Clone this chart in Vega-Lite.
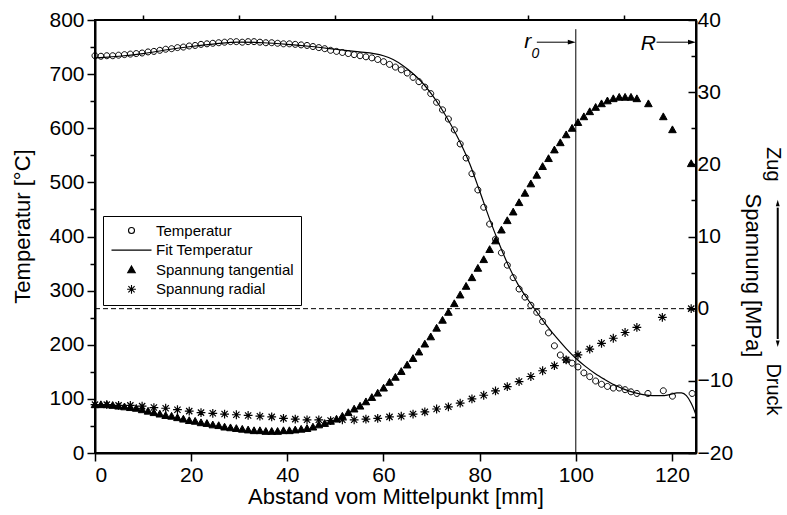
{
  "$schema": "https://vega.github.io/schema/vega-lite/v6.json",
  "width": 601,
  "height": 433,
  "autosize": {"type": "none"},
  "padding": {"left": 95, "top": 20, "right": 91, "bottom": 62},
  "background": "white",
  "config": {
    "font": "Liberation Sans",
    "view": {"stroke": "black", "strokeWidth": 2},
    "axis": {
      "grid": false,
      "domainColor": "black",
      "domainWidth": 2,
      "tickColor": "black",
      "tickWidth": 1.5,
      "labelColor": "black",
      "titleColor": "black",
      "labelFont": "Liberation Sans",
      "titleFont": "Liberation Sans",
      "labelFontSize": 21,
      "titleFontSize": 22,
      "titleFontWeight": "normal"
    },
    "legend": {
      "orient": "none",
      "legendX": 8,
      "legendY": 196,
      "strokeColor": "black",
      "strokeWidth": 1,
      "fillColor": "white",
      "padding": 7,
      "symbolOffset": 14,
      "labelOffset": 17,
      "labelFont": "Liberation Sans",
      "labelFontSize": 15,
      "labelColor": "black",
      "symbolSize": 64,
      "symbolStrokeWidth": 1.1,
      "rowPadding": 3.6
    }
  },
  "datasets": {
    "temp": [
      {"x":0,"v":734,"s":"Temperatur"},{"x":1.23,"v":733,"s":"Temperatur"},{"x":2.45,"v":734,"s":"Temperatur"},{"x":3.68,"v":734,"s":"Temperatur"},{"x":4.9,"v":735,"s":"Temperatur"},{"x":6.13,"v":736,"s":"Temperatur"},{"x":7.35,"v":737,"s":"Temperatur"},{"x":8.58,"v":738,"s":"Temperatur"},{"x":9.8,"v":739,"s":"Temperatur"},{"x":11.03,"v":741,"s":"Temperatur"},
      {"x":12.25,"v":742,"s":"Temperatur"},{"x":13.48,"v":744,"s":"Temperatur"},{"x":14.7,"v":746,"s":"Temperatur"},{"x":15.93,"v":747,"s":"Temperatur"},{"x":17.15,"v":749,"s":"Temperatur"},{"x":18.38,"v":750,"s":"Temperatur"},{"x":19.6,"v":752,"s":"Temperatur"},{"x":20.83,"v":753,"s":"Temperatur"},{"x":22.05,"v":755,"s":"Temperatur"},{"x":23.28,"v":756,"s":"Temperatur"},
      {"x":24.5,"v":757,"s":"Temperatur"},{"x":25.73,"v":758,"s":"Temperatur"},{"x":26.95,"v":759,"s":"Temperatur"},{"x":28.18,"v":760,"s":"Temperatur"},{"x":29.4,"v":760,"s":"Temperatur"},{"x":30.63,"v":759,"s":"Temperatur"},{"x":31.85,"v":760,"s":"Temperatur"},{"x":33.08,"v":760,"s":"Temperatur"},{"x":34.3,"v":759,"s":"Temperatur"},{"x":35.53,"v":758,"s":"Temperatur"},
      {"x":36.75,"v":758,"s":"Temperatur"},{"x":37.98,"v":757,"s":"Temperatur"},{"x":39.2,"v":756,"s":"Temperatur"},{"x":40.43,"v":756,"s":"Temperatur"},{"x":41.65,"v":755,"s":"Temperatur"},{"x":42.88,"v":754,"s":"Temperatur"},{"x":44.1,"v":753,"s":"Temperatur"},{"x":45.33,"v":751,"s":"Temperatur"},{"x":46.55,"v":749,"s":"Temperatur"},{"x":47.78,"v":747,"s":"Temperatur"},
      {"x":49,"v":744,"s":"Temperatur"},{"x":50.23,"v":742,"s":"Temperatur"},{"x":51.45,"v":740,"s":"Temperatur"},{"x":52.68,"v":738,"s":"Temperatur"},{"x":53.9,"v":736,"s":"Temperatur"},{"x":55.13,"v":734,"s":"Temperatur"},{"x":56.35,"v":732,"s":"Temperatur"},{"x":57.58,"v":730,"s":"Temperatur"},{"x":58.8,"v":727,"s":"Temperatur"},{"x":60.03,"v":723,"s":"Temperatur"},
      {"x":61.25,"v":718,"s":"Temperatur"},{"x":62.48,"v":713,"s":"Temperatur"},{"x":63.7,"v":708,"s":"Temperatur"},{"x":64.93,"v":702,"s":"Temperatur"},{"x":66.15,"v":694,"s":"Temperatur"},{"x":67.38,"v":686,"s":"Temperatur"},{"x":68.6,"v":676,"s":"Temperatur"},{"x":69.83,"v":664,"s":"Temperatur"},{"x":71.05,"v":648,"s":"Temperatur"},{"x":72.28,"v":634,"s":"Temperatur"},
      {"x":73.5,"v":617,"s":"Temperatur"},{"x":74.73,"v":597,"s":"Temperatur"},{"x":75.95,"v":571,"s":"Temperatur"},{"x":77.18,"v":545,"s":"Temperatur"},{"x":78.4,"v":516,"s":"Temperatur"},{"x":79.63,"v":486,"s":"Temperatur"},{"x":80.85,"v":454,"s":"Temperatur"},{"x":82.08,"v":423,"s":"Temperatur"},{"x":83.3,"v":395,"s":"Temperatur"},{"x":84.53,"v":370,"s":"Temperatur"},
      {"x":85.75,"v":347,"s":"Temperatur"},{"x":86.98,"v":324,"s":"Temperatur"},{"x":88.2,"v":303,"s":"Temperatur"},{"x":89.43,"v":288,"s":"Temperatur"},{"x":90.65,"v":273,"s":"Temperatur"},{"x":91.88,"v":260,"s":"Temperatur"},{"x":93.1,"v":243,"s":"Temperatur"},{"x":94.33,"v":222,"s":"Temperatur"},{"x":95.55,"v":198,"s":"Temperatur"},{"x":96.78,"v":181,"s":"Temperatur"},
      {"x":98,"v":172,"s":"Temperatur"},{"x":99.23,"v":166,"s":"Temperatur"},{"x":100.45,"v":159,"s":"Temperatur"},{"x":101.68,"v":148,"s":"Temperatur"},{"x":102.9,"v":141,"s":"Temperatur"},{"x":104.13,"v":133,"s":"Temperatur"},{"x":105.35,"v":127,"s":"Temperatur"},{"x":106.58,"v":123,"s":"Temperatur"},{"x":107.8,"v":120,"s":"Temperatur"},{"x":109.03,"v":120,"s":"Temperatur"},
      {"x":110.25,"v":117,"s":"Temperatur"},{"x":111.48,"v":113,"s":"Temperatur"},{"x":112.7,"v":110,"s":"Temperatur"},
      {"x":115,"v":110,"s":"Temperatur"},{"x":118.2,"v":115,"s":"Temperatur"},{"x":120.1,"v":105,"s":"Temperatur"},{"x":124.2,"v":110,"s":"Temperatur"}
    ],
    "fit": [
      {"x":0,"v":730},{"x":2,"v":731},{"x":5,"v":733},{"x":10,"v":738},{"x":15,"v":745},{"x":20,"v":751},{"x":25,"v":756},{"x":30,"v":759},{"x":35,"v":758},{"x":40,"v":755},
      {"x":45,"v":751},{"x":50,"v":746},{"x":55,"v":741},{"x":58,"v":738},{"x":60,"v":734},{"x":62,"v":727},{"x":64,"v":716},{"x":66,"v":702},{"x":68,"v":685},{"x":70,"v":663},
      {"x":72,"v":637},{"x":74,"v":607},{"x":76,"v":573},{"x":78,"v":533},{"x":80,"v":484},{"x":82,"v":434},{"x":84,"v":388},{"x":86,"v":346},{"x":88,"v":311},{"x":90,"v":284},
      {"x":92,"v":259},{"x":94,"v":235},{"x":96,"v":213},{"x":98,"v":193},{"x":100,"v":175},{"x":102,"v":160},{"x":104,"v":147},{"x":106,"v":136},{"x":108,"v":126},{"x":110,"v":118},
      {"x":112,"v":112},{"x":114,"v":108},{"x":116,"v":106},{"x":118,"v":106},{"x":119,"v":107},{"x":120,"v":109},{"x":121,"v":111},{"x":122,"v":111},{"x":123,"v":106},{"x":124,"v":92},
      {"x":124.5,"v":82},{"x":125,"v":70}
    ],
    "tang": [
      {"x":0,"v":-13.3,"s":"Spannung tangential"},{"x":1.23,"v":-13.3,"s":"Spannung tangential"},{"x":2.45,"v":-13.3,"s":"Spannung tangential"},{"x":3.68,"v":-13.4,"s":"Spannung tangential"},{"x":4.9,"v":-13.5,"s":"Spannung tangential"},{"x":6.13,"v":-13.6,"s":"Spannung tangential"},{"x":7.35,"v":-13.7,"s":"Spannung tangential"},{"x":8.58,"v":-13.8,"s":"Spannung tangential"},{"x":9.8,"v":-14.0,"s":"Spannung tangential"},{"x":11.03,"v":-14.2,"s":"Spannung tangential"},
      {"x":12.25,"v":-14.4,"s":"Spannung tangential"},{"x":13.48,"v":-14.6,"s":"Spannung tangential"},{"x":14.7,"v":-14.8,"s":"Spannung tangential"},{"x":15.93,"v":-14.9,"s":"Spannung tangential"},{"x":17.15,"v":-15.1,"s":"Spannung tangential"},{"x":18.38,"v":-15.3,"s":"Spannung tangential"},{"x":19.6,"v":-15.5,"s":"Spannung tangential"},{"x":20.83,"v":-15.6,"s":"Spannung tangential"},{"x":22.05,"v":-15.8,"s":"Spannung tangential"},{"x":23.28,"v":-15.9,"s":"Spannung tangential"},
      {"x":24.5,"v":-16.1,"s":"Spannung tangential"},{"x":25.73,"v":-16.2,"s":"Spannung tangential"},{"x":26.95,"v":-16.4,"s":"Spannung tangential"},{"x":28.18,"v":-16.5,"s":"Spannung tangential"},{"x":29.4,"v":-16.6,"s":"Spannung tangential"},{"x":30.63,"v":-16.7,"s":"Spannung tangential"},{"x":31.85,"v":-16.8,"s":"Spannung tangential"},{"x":33.08,"v":-16.9,"s":"Spannung tangential"},{"x":34.3,"v":-16.9,"s":"Spannung tangential"},{"x":35.53,"v":-17.0,"s":"Spannung tangential"},
      {"x":36.75,"v":-17.0,"s":"Spannung tangential"},{"x":37.98,"v":-17.0,"s":"Spannung tangential"},{"x":39.2,"v":-16.9,"s":"Spannung tangential"},{"x":40.43,"v":-16.9,"s":"Spannung tangential"},{"x":41.65,"v":-16.8,"s":"Spannung tangential"},{"x":42.88,"v":-16.7,"s":"Spannung tangential"},{"x":44.1,"v":-16.6,"s":"Spannung tangential"},{"x":45.33,"v":-16.4,"s":"Spannung tangential"},{"x":46.55,"v":-16.1,"s":"Spannung tangential"},{"x":47.78,"v":-15.9,"s":"Spannung tangential"},
      {"x":49,"v":-15.6,"s":"Spannung tangential"},{"x":50.23,"v":-15.3,"s":"Spannung tangential"},{"x":51.45,"v":-14.9,"s":"Spannung tangential"},{"x":52.68,"v":-14.4,"s":"Spannung tangential"},{"x":53.9,"v":-13.9,"s":"Spannung tangential"},{"x":55.13,"v":-13.5,"s":"Spannung tangential"},{"x":56.35,"v":-12.9,"s":"Spannung tangential"},{"x":57.58,"v":-12.3,"s":"Spannung tangential"},{"x":58.8,"v":-11.7,"s":"Spannung tangential"},{"x":60.03,"v":-11.0,"s":"Spannung tangential"},
      {"x":61.25,"v":-10.2,"s":"Spannung tangential"},{"x":62.48,"v":-9.5,"s":"Spannung tangential"},{"x":63.7,"v":-8.7,"s":"Spannung tangential"},{"x":64.93,"v":-7.8,"s":"Spannung tangential"},{"x":66.15,"v":-6.9,"s":"Spannung tangential"},{"x":67.38,"v":-6.0,"s":"Spannung tangential"},{"x":68.6,"v":-4.9,"s":"Spannung tangential"},{"x":69.83,"v":-3.9,"s":"Spannung tangential"},{"x":71.05,"v":-2.7,"s":"Spannung tangential"},{"x":72.28,"v":-1.6,"s":"Spannung tangential"},
      {"x":73.5,"v":-0.5,"s":"Spannung tangential"},{"x":74.73,"v":0.7,"s":"Spannung tangential"},{"x":75.95,"v":1.9,"s":"Spannung tangential"},{"x":77.18,"v":3.1,"s":"Spannung tangential"},{"x":78.4,"v":4.3,"s":"Spannung tangential"},{"x":79.63,"v":5.6,"s":"Spannung tangential"},{"x":80.85,"v":6.8,"s":"Spannung tangential"},{"x":82.08,"v":8.2,"s":"Spannung tangential"},{"x":83.3,"v":9.4,"s":"Spannung tangential"},{"x":84.53,"v":10.9,"s":"Spannung tangential"},
      {"x":85.75,"v":12.2,"s":"Spannung tangential"},{"x":86.98,"v":13.4,"s":"Spannung tangential"},{"x":88.2,"v":14.7,"s":"Spannung tangential"},{"x":89.43,"v":16.0,"s":"Spannung tangential"},{"x":90.65,"v":17.3,"s":"Spannung tangential"},{"x":91.88,"v":18.5,"s":"Spannung tangential"},{"x":93.1,"v":19.7,"s":"Spannung tangential"},{"x":94.33,"v":20.8,"s":"Spannung tangential"},{"x":95.55,"v":22.0,"s":"Spannung tangential"},{"x":96.78,"v":23.0,"s":"Spannung tangential"},
      {"x":98,"v":24.1,"s":"Spannung tangential"},{"x":99.23,"v":25.0,"s":"Spannung tangential"},{"x":100.45,"v":25.8,"s":"Spannung tangential"},{"x":101.68,"v":26.6,"s":"Spannung tangential"},{"x":102.9,"v":27.3,"s":"Spannung tangential"},{"x":104.13,"v":27.9,"s":"Spannung tangential"},{"x":105.35,"v":28.4,"s":"Spannung tangential"},{"x":106.58,"v":28.8,"s":"Spannung tangential"},{"x":107.8,"v":29.1,"s":"Spannung tangential"},{"x":109.03,"v":29.3,"s":"Spannung tangential"},
      {"x":110.25,"v":29.3,"s":"Spannung tangential"},{"x":111.48,"v":29.3,"s":"Spannung tangential"},{"x":112.7,"v":29.1,"s":"Spannung tangential"},
      {"x":115.1,"v":28.4,"s":"Spannung tangential"},{"x":118.2,"v":26.6,"s":"Spannung tangential"},{"x":120.1,"v":24.8,"s":"Spannung tangential"},{"x":124,"v":20.1,"s":"Spannung tangential"}
    ],
    "rad": [
      {"x":0,"v":-13.3,"s":"Spannung radial"},{"x":2.45,"v":-13.3,"s":"Spannung radial"},{"x":4.9,"v":-13.4,"s":"Spannung radial"},{"x":7.35,"v":-13.4,"s":"Spannung radial"},{"x":9.8,"v":-13.5,"s":"Spannung radial"},{"x":12.25,"v":-13.7,"s":"Spannung radial"},{"x":14.7,"v":-13.8,"s":"Spannung radial"},{"x":17.15,"v":-14.0,"s":"Spannung radial"},{"x":19.6,"v":-14.2,"s":"Spannung radial"},{"x":22.05,"v":-14.4,"s":"Spannung radial"},
      {"x":24.5,"v":-14.5,"s":"Spannung radial"},{"x":26.95,"v":-14.6,"s":"Spannung radial"},{"x":29.4,"v":-14.7,"s":"Spannung radial"},{"x":31.85,"v":-14.8,"s":"Spannung radial"},{"x":34.3,"v":-14.9,"s":"Spannung radial"},{"x":36.75,"v":-15.0,"s":"Spannung radial"},{"x":39.2,"v":-15.2,"s":"Spannung radial"},{"x":41.65,"v":-15.3,"s":"Spannung radial"},{"x":44.1,"v":-15.4,"s":"Spannung radial"},{"x":46.55,"v":-15.4,"s":"Spannung radial"},
      {"x":49,"v":-15.5,"s":"Spannung radial"},{"x":51.45,"v":-15.4,"s":"Spannung radial"},{"x":53.9,"v":-15.4,"s":"Spannung radial"},{"x":56.35,"v":-15.3,"s":"Spannung radial"},{"x":58.8,"v":-15.2,"s":"Spannung radial"},{"x":61.25,"v":-15.0,"s":"Spannung radial"},{"x":63.7,"v":-14.9,"s":"Spannung radial"},{"x":66.15,"v":-14.6,"s":"Spannung radial"},{"x":68.6,"v":-14.3,"s":"Spannung radial"},{"x":71.05,"v":-13.9,"s":"Spannung radial"},
      {"x":73.5,"v":-13.6,"s":"Spannung radial"},{"x":75.95,"v":-13.1,"s":"Spannung radial"},{"x":78.4,"v":-12.5,"s":"Spannung radial"},{"x":80.85,"v":-12.0,"s":"Spannung radial"},{"x":83.3,"v":-11.4,"s":"Spannung radial"},{"x":85.75,"v":-10.8,"s":"Spannung radial"},{"x":88.2,"v":-10.1,"s":"Spannung radial"},{"x":90.65,"v":-9.4,"s":"Spannung radial"},{"x":93.1,"v":-8.6,"s":"Spannung radial"},{"x":95.55,"v":-7.9,"s":"Spannung radial"},
      {"x":98,"v":-7.1,"s":"Spannung radial"},{"x":100.45,"v":-6.4,"s":"Spannung radial"},{"x":102.9,"v":-5.6,"s":"Spannung radial"},{"x":105.35,"v":-4.8,"s":"Spannung radial"},{"x":107.8,"v":-4.1,"s":"Spannung radial"},{"x":110.25,"v":-3.3,"s":"Spannung radial"},{"x":112.7,"v":-2.6,"s":"Spannung radial"},
      {"x":118,"v":-1.2,"s":"Spannung radial"},{"x":124,"v":0.0,"s":"Spannung radial"}
    ],
    "vrule": [{"x":100,"y":0,"y2":783}],
    "harrows": [{"x":91.9,"x2":99.3,"y":759},{"x":116.8,"x2":124.3,"y":759}],
    "hheads": [{"x":100,"y":759},{"x":125,"y":759}],
    "labelsBig": [{"x":90.0,"y":748,"t":"r"},{"x":115.1,"y":745,"t":"R"}],
    "labelsSub": [{"x":91.6,"y":729,"t":"0"}],
    "zero": [{"x":0,"x2":125,"y":0}],
    "side": [{"x":141,"y":20.0,"t":"Zug"},{"x":141,"y":-11.2,"t":"Druck"}],
    "varrow": [{"x":142,"y":14.0,"y2":-4.2}],
    "uphead": [{"x":142,"y":15.1}],
    "downhead": [{"x":142,"y":-5.3}]
  },
  "layer": [
    {
      "layer": [
        {
          "data": {"name": "temp"},
          "mark": {"type": "point", "filled": true, "strokeWidth": 1, "opacity": 1, "size": 64},
          "encoding": {
            "x": {"field": "x", "type": "quantitative", "scale": {"domain": [0, 125], "nice": false, "zero": false},
                  "axis": {"values": [0, 20, 40, 60, 80, 100, 120], "title": "Abstand vom Mittelpunkt [mm]", "tickSize": 8, "labelPadding": 3, "titlePadding": 1}},
            "y": {"field": "v", "type": "quantitative", "scale": {"domain": [0, 800], "nice": false},
                  "axis": {"orient": "left", "values": [0, 100, 200, 300, 400, 500, 600, 700, 800], "title": "Temperatur [°C]", "tickSize": 8, "labelPadding": 3, "titlePadding": 14, "titleY": 206}},
            "shape": {"field": "s", "type": "nominal",
                      "scale": {"domain": ["Temperatur", "Fit Temperatur", "Spannung tangential", "Spannung radial"],
                                "range": ["M0.75,0A0.75,0.75 0 1,1 -0.75,0A0.75,0.75 0 1,1 0.75,0Z", "M-5,0L5,0", "M0,-0.95L0.95,0.75L-0.95,0.75Z", "M-1.1,0L1.1,0M0,-1.1L0,1.1M-0.78,-0.78L0.78,0.78M-0.78,0.78L0.78,-0.78"]},
                      "legend": {"title": null}},
            "fill": {"field": "s", "type": "nominal",
                     "scale": {"domain": ["Temperatur", "Fit Temperatur", "Spannung tangential", "Spannung radial"],
                               "range": ["transparent", "transparent", "black", "transparent"]},
                     "legend": {"title": null}},
            "stroke": {"field": "s", "type": "nominal",
                       "scale": {"domain": ["Temperatur", "Fit Temperatur", "Spannung tangential", "Spannung radial"],
                                 "range": ["black", "black", "black", "black"]},
                       "legend": {"title": null}}
          }
        },
        {
          "data": {"name": "fit"},
          "mark": {"type": "line", "color": "black", "strokeWidth": 1.2, "interpolate": "monotone"},
          "encoding": {
            "x": {"field": "x", "type": "quantitative", "axis": {"values": [10, 30, 50, 70, 90, 110], "labels": false, "domain": false, "tickSize": 5, "title": null}},
            "y": {"field": "v", "type": "quantitative", "axis": {"orient": "left", "values": [50, 150, 250, 350, 450, 550, 650, 750], "labels": false, "domain": false, "tickSize": 5, "title": null}}
          }
        },
        {
          "data": {"name": "vrule"},
          "mark": {"type": "rule", "color": "black", "strokeWidth": 1},
          "encoding": {
            "x": {"field": "x", "type": "quantitative", "axis": null},
            "y": {"field": "y", "type": "quantitative", "axis": null},
            "y2": {"field": "y2"}
          }
        },
        {
          "data": {"name": "harrows"},
          "mark": {"type": "rule", "color": "black", "strokeWidth": 1},
          "encoding": {
            "x": {"field": "x", "type": "quantitative", "axis": null},
            "x2": {"field": "x2"},
            "y": {"field": "y", "type": "quantitative", "axis": null}
          }
        },
        {
          "data": {"name": "hheads"},
          "mark": {"type": "point", "shape": "M0,0L-2,0.6L-2,-0.6Z", "size": 64, "filled": true, "color": "black", "opacity": 1, "strokeWidth": 0},
          "encoding": {
            "x": {"field": "x", "type": "quantitative", "axis": null},
            "y": {"field": "y", "type": "quantitative", "axis": null}
          }
        },
        {
          "data": {"name": "labelsBig"},
          "mark": {"type": "text", "font": "Liberation Sans", "fontSize": 21, "fontStyle": "italic", "align": "center", "baseline": "alphabetic", "color": "black"},
          "encoding": {
            "x": {"field": "x", "type": "quantitative", "axis": null},
            "y": {"field": "y", "type": "quantitative", "axis": null},
            "text": {"field": "t"}
          }
        },
        {
          "data": {"name": "labelsSub"},
          "mark": {"type": "text", "font": "Liberation Sans", "fontSize": 14, "fontStyle": "italic", "align": "center", "baseline": "alphabetic", "color": "black"},
          "encoding": {
            "x": {"field": "x", "type": "quantitative", "axis": null},
            "y": {"field": "y", "type": "quantitative", "axis": null},
            "text": {"field": "t"}
          }
        }
      ],
      "resolve": {"axis": {"x": "independent", "y": "independent"}}
    },
    {
      "layer": [
        {
          "data": {"name": "tang"},
          "mark": {"type": "point", "filled": true, "strokeWidth": 1, "opacity": 1, "size": 64},
          "encoding": {
            "x": {"field": "x", "type": "quantitative", "axis": null},
            "y": {"field": "v", "type": "quantitative", "scale": {"domain": [-20, 40], "nice": false, "zero": false},
                  "axis": {"orient": "right", "values": [-20, -10, 0, 10, 20, 30, 40], "title": "Spannung [MPa]", "tickSize": -8, "labelPadding": 9, "titlePadding": 8, "titleY": 255}},
            "shape": {"field": "s", "type": "nominal", "legend": {"title": null}},
            "fill": {"field": "s", "type": "nominal", "legend": {"title": null}},
            "stroke": {"field": "s", "type": "nominal", "legend": {"title": null}}
          }
        },
        {
          "data": {"name": "rad"},
          "mark": {"type": "point", "filled": true, "strokeWidth": 1.2, "opacity": 1, "size": 64},
          "encoding": {
            "x": {"field": "x", "type": "quantitative", "axis": null},
            "y": {"field": "v", "type": "quantitative", "axis": {"orient": "right", "values": [-15, -5, 5, 15, 25, 35], "labels": false, "domain": false, "tickSize": -5, "title": null}},
            "shape": {"field": "s", "type": "nominal", "legend": {"title": null}},
            "fill": {"field": "s", "type": "nominal", "legend": {"title": null}},
            "stroke": {"field": "s", "type": "nominal", "legend": {"title": null}}
          }
        },
        {
          "data": {"name": "zero"},
          "mark": {"type": "rule", "color": "black", "strokeWidth": 1, "strokeDash": [5, 3]},
          "encoding": {
            "x": {"field": "x", "type": "quantitative", "axis": null},
            "x2": {"field": "x2"},
            "y": {"field": "y", "type": "quantitative", "axis": null}
          }
        },
        {
          "data": {"name": "side"},
          "mark": {"type": "text", "font": "Liberation Sans", "fontSize": 20, "angle": 90, "align": "center", "baseline": "middle", "color": "black"},
          "encoding": {
            "x": {"field": "x", "type": "quantitative", "axis": null},
            "y": {"field": "y", "type": "quantitative", "axis": null},
            "text": {"field": "t"}
          }
        },
        {
          "data": {"name": "varrow"},
          "mark": {"type": "rule", "color": "black", "strokeWidth": 2},
          "encoding": {
            "x": {"field": "x", "type": "quantitative", "axis": null},
            "y": {"field": "y", "type": "quantitative", "axis": null},
            "y2": {"field": "y2"}
          }
        },
        {
          "data": {"name": "uphead"},
          "mark": {"type": "point", "shape": "M0,0L0.6,2L-0.6,2Z", "size": 42, "filled": true, "color": "black", "opacity": 1, "strokeWidth": 0},
          "encoding": {
            "x": {"field": "x", "type": "quantitative", "axis": null},
            "y": {"field": "y", "type": "quantitative", "axis": null}
          }
        },
        {
          "data": {"name": "downhead"},
          "mark": {"type": "point", "shape": "M0,0L0.6,-2L-0.6,-2Z", "size": 42, "filled": true, "color": "black", "opacity": 1, "strokeWidth": 0},
          "encoding": {
            "x": {"field": "x", "type": "quantitative", "axis": null},
            "y": {"field": "y", "type": "quantitative", "axis": null}
          }
        }
      ],
      "resolve": {"axis": {"x": "independent", "y": "independent"}}
    }
  ],
  "resolve": {"scale": {"y": "independent"}, "axis": {"x": "independent", "y": "independent"}}
}
